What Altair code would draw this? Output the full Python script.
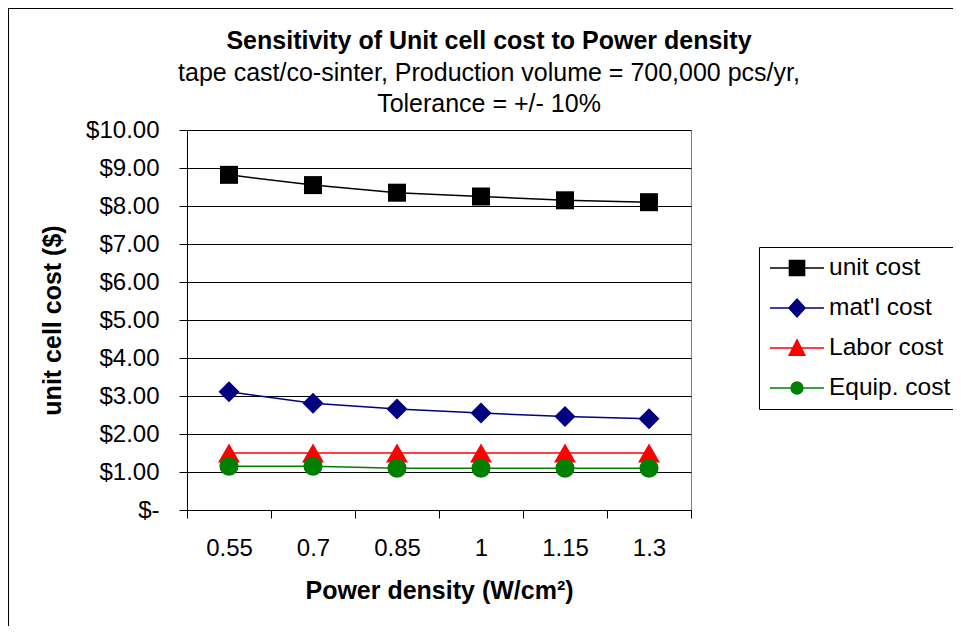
import altair as alt
import pandas as pd

# ---- data ----
power_density = ["0.55", "0.7", "0.85", "1", "1.15", "1.3"]
series_names = ["unit cost", "mat'l cost", "Labor cost", "Equip. cost"]
unit_cost = [8.82, 8.55, 8.35, 8.25, 8.15, 8.10]
matl_cost = [3.11, 2.81, 2.66, 2.55, 2.46, 2.40]
labor_cost = [1.50, 1.50, 1.50, 1.50, 1.50, 1.50]
equip_cost = [1.15, 1.15, 1.10, 1.10, 1.10, 1.10]

series_colors = ["#000000", "#000080", "#FF0000", "#008000"]
plot_shapes = ["square", "diamond", "triangle-up", "circle"]
plot_sizes = [324, 441, 484, 361]
legend_shapes = [
    "M-1,0H1M-0.28,-0.28H0.28V0.28H-0.28Z",
    "M-1,0H1M-0.3,0L0,-0.33L0.3,0L0,0.33Z",
    "M-1,0H1M0,-0.3L0.29,0.27H-0.29Z",
    "M-1,0H1M-0.22,0A0.22,0.22,0,1,1,0.22,0A0.22,0.22,0,1,1,-0.22,0Z",
]

rows = []
for name, vals in zip(series_names, [unit_cost, matl_cost, labor_cost, equip_cost]):
    for i, (x, v) in enumerate(zip(power_density, vals)):
        rows.append({"pd": x, "cost": v, "series": name, "idx": i})
df = pd.DataFrame(rows)

FONT = "Arial, Liberation Sans"
W, H = 504, 380
PAD_L, PAD_T = 179, 122
PAD_R, PAD_B = 262, 116

x_enc = alt.X(
    "pd:O",
    sort=power_density,
    scale=alt.Scale(type="band", domain=power_density, paddingInner=0, paddingOuter=0),
    axis=alt.Axis(
        title="Power density (W/cm²)",
        labelAngle=0,
        tickBand="extent",
        tickSize=8,
        labelPadding=18,
        labelFontSize=24,
        labelFont=FONT,
        labelColor="#000000",
        titleFont=FONT,
        titleFontSize=25,
        titleFontWeight="bold",
        titleColor="#000000",
        titleY=80,
        titleBaseline="middle",
        domainColor="#000000",
        tickColor="#000000",
        grid=False,
    ),
)
y_enc = alt.Y(
    "cost:Q",
    scale=alt.Scale(domain=[0, 10], nice=False, zero=True),
    axis=alt.Axis(
        title="unit cell cost ($)",
        values=list(range(0, 11)),
        labelExpr="datum.value == 0 ? '$-\u00a0\u00a0\u00a0\u00a0' : '$' + format(datum.value, '.2f')",
        tickSize=8,
        labelPadding=20,
        labelFontSize=24,
        labelFont=FONT,
        labelColor="#000000",
        titleFont=FONT,
        titleFontSize=25,
        titleFontWeight="bold",
        titleColor="#000000",
        titleX=-135,
        titleY=H / 2,
        titleAngle=270,
        titleBaseline="middle",
        titleAlign="center",
        domainColor="#000000",
        tickColor="#000000",
        grid=True,
        gridColor="#000000",
        gridWidth=1,
    ),
)

color_scale = alt.Scale(domain=series_names, range=series_colors)

lines = alt.Chart(df).mark_line(strokeWidth=1.5).encode(
    x=x_enc,
    y=y_enc,
    stroke=alt.Stroke("series:N", scale=color_scale),
    detail="series:N",
    order="idx:Q",
)

point_layers = []
for name, shp, sz in zip(series_names, plot_shapes, plot_sizes):
    point_layers.append(
        alt.Chart(df)
        .transform_filter(alt.datum.series == name)
        .mark_point(filled=True, opacity=1, strokeWidth=0, shape=shp, size=sz)
        .encode(x=x_enc, y=y_enc, fill=alt.Fill("series:N", scale=color_scale))
    )

legend_spec = alt.Legend(
    title=None,
    orient="none",
    legendX=572,
    legendY=117,
    padding=2,
    symbolOffset=8,
    labelOffset=4,
    clipHeight=38,
    rowPadding=2,
    symbolSize=2916,
    symbolStrokeWidth=1.5,
    labelFontSize=24.5,
    labelFont=FONT,
    labelColor="#000000",
    labelLimit=300,
    strokeColor="#000000",
    fillColor="#FFFFFF",
)

legend_layer = alt.Chart(df).transform_filter("false").mark_point(
    filled=True, opacity=1, strokeWidth=1.5, size=2916
).encode(
    x=x_enc,
    y=y_enc,
    fill=alt.Fill("series:N", scale=color_scale, legend=legend_spec),
    stroke=alt.Stroke("series:N", scale=color_scale, legend=legend_spec),
    shape=alt.Shape("series:N", scale=alt.Scale(domain=series_names, range=legend_shapes), legend=legend_spec),
)

frame_left = alt.Chart(pd.DataFrame({"a": [0]})).mark_rule(color="#000000", strokeWidth=1).encode(
    x=alt.value(-178.5), y=alt.value(-122), y2=alt.value(H + PAD_B)
)
frame_top = alt.Chart(pd.DataFrame({"a": [0]})).mark_rule(color="#000000", strokeWidth=1).encode(
    y=alt.value(-121.5), x=alt.value(-179), x2=alt.value(W + PAD_R)
)

chart = (
    alt.layer(lines, *point_layers, legend_layer, frame_left, frame_top)
    .properties(
        width=W,
        height=H,
        autosize=alt.AutoSizeParams(type="none"),
        padding={"left": PAD_L, "top": PAD_T, "right": PAD_R, "bottom": PAD_B},
        background="#FFFFFF",
        title=alt.TitleParams(
            text="Sensitivity of Unit cell cost to Power density",
            subtitle=["tape cast/co-sinter, Production volume = 700,000 pcs/yr,", "Tolerance = +/- 10%"],
            font=FONT,
            fontSize=25,
            fontWeight="bold",
            color="#000000",
            subtitleFont=FONT,
            subtitleFontSize=25,
            subtitleFontWeight="normal",
            subtitleColor="#000000",
            subtitleLineHeight=31,
            subtitlePadding=7,
            anchor="middle",
            frame="group",
            dx=50,
            offset=-109,
        ),
    )
    .configure_view(stroke="#808080", strokeWidth=1)
    .configure_axis(labelOverlap=False)
)

chart.save("out.html", embed_options={"renderer": "svg", "actions": False})
